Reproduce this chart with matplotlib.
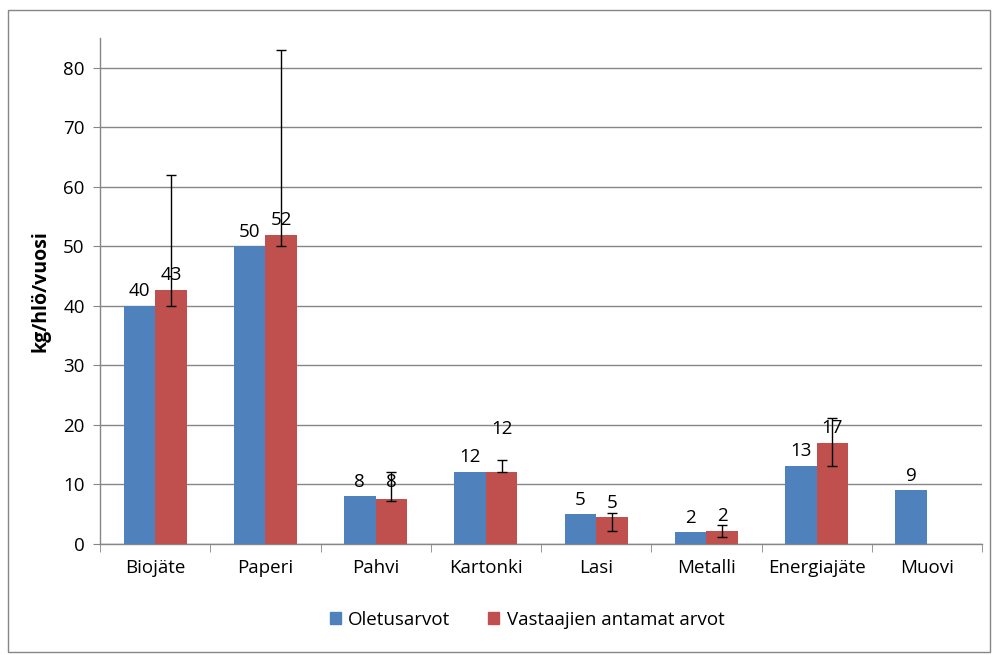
import numpy as np
import matplotlib.pyplot as plt
from matplotlib.patches import Rectangle, Patch

# Data
categories = ['Biojäte', 'Paperi', 'Pahvi', 'Kartonki', 'Lasi', 'Metalli', 'Energiajäte', 'Muovi']
oletus = [40, 50, 8.05, 12.1, 5.0, 2.0, 13.1, 9.05]
vastaajat = [42.7, 51.9, 7.5, 12.1, 4.5, 2.2, 17.0, np.nan]
oletus_labels = ['40', '50', '8', '12', '5', '2', '13', '9']
vastaajat_labels = ['43', '52', '8', '12', '5', '2', '17', '']
# ranges of the error bars (min, max) for the respondent values
err_low = [40, 50, 7.2, 12.1, 2.2, 1.2, 13.1, np.nan]
err_high = [62, 83, 12.1, 14.1, 5.2, 3.2, 21.2, np.nan]
# where the respondent value labels sit (Kartonki label floats higher in the original)
vastaajat_label_at = [42.7, 51.9, 7.9, 16.8, 4.5, 2.2, 17.0, np.nan]

blue = '#4F81BD'
red = '#C0504D'
grid_col = '#868686'

plt.rcParams['font.family'] = ['Open Sans', 'DejaVu Sans']
fs = 13.5

fig = plt.figure(figsize=(9.92, 6.55), dpi=100)
ax = fig.add_axes([100 / 992, 1 - 544 / 655, 882 / 992, (544 - 38) / 655])

x = np.arange(len(categories))
w = 0.286
ax.bar(x - w / 2, oletus, w, color=blue, zorder=3)
ax.bar(x + w / 2, vastaajat, w, color=red, zorder=3)

vals = np.array(vastaajat)
lo = vals - np.array(err_low)
hi = np.array(err_high) - vals
ax.errorbar(x + w / 2, vals, yerr=[lo, hi], fmt='none', ecolor='black',
            elinewidth=1, capsize=3.5, capthick=1, zorder=4)

for i in range(len(categories)):
    ax.annotate(oletus_labels[i], (x[i] - w / 2, oletus[i]), xytext=(0, 4),
                textcoords='offset points', ha='center', va='bottom', fontsize=fs, zorder=5)
    if vastaajat_labels[i]:
        ax.annotate(vastaajat_labels[i], (x[i] + w / 2, vastaajat_label_at[i]), xytext=(0, 4),
                    textcoords='offset points', ha='center', va='bottom', fontsize=fs, zorder=5)

ax.set_xlim(-0.5, len(categories) - 0.5)
ax.set_ylim(0, 85)
ax.set_yticks(range(0, 81, 10))
ax.yaxis.grid(True, color=grid_col, linewidth=1, zorder=0)
ax.set_axisbelow(True)

ax.set_xticks(x)
ax.set_xticklabels(categories, fontsize=fs)
ax.set_xticks(np.arange(-0.5, len(categories), 1), minor=True)
ax.tick_params(axis='x', which='major', length=0, pad=11)
ax.tick_params(axis='x', which='minor', length=6, color=grid_col, direction='out')
ax.tick_params(axis='y', length=5, color=grid_col, labelsize=fs, pad=6)

for s in ['top', 'right']:
    ax.spines[s].set_visible(False)
for s in ['left', 'bottom']:
    ax.spines[s].set_color(grid_col)
    ax.spines[s].set_linewidth(1)

ax.set_ylabel('kg/hlö/vuosi', fontsize=14, fontweight='bold', labelpad=9)

handles = [Patch(color=blue, label='Oletusarvot'), Patch(color=red, label='Vastaajien antamat arvot')]
fig.legend(handles=handles, loc='center', bbox_to_anchor=(527 / 992, 1 - 620 / 655), ncol=2,
           frameon=False, fontsize=fs, handlelength=0.6, handleheight=0.6, columnspacing=2.0,
           handletextpad=0.4)

# outer chart border
fig.patches.append(Rectangle((8 / 992, 3 / 655), 982 / 992, 642 / 655, transform=fig.transFigure,
                             fill=False, edgecolor=grid_col, linewidth=1))

fig.savefig('out.png', dpi=100)
